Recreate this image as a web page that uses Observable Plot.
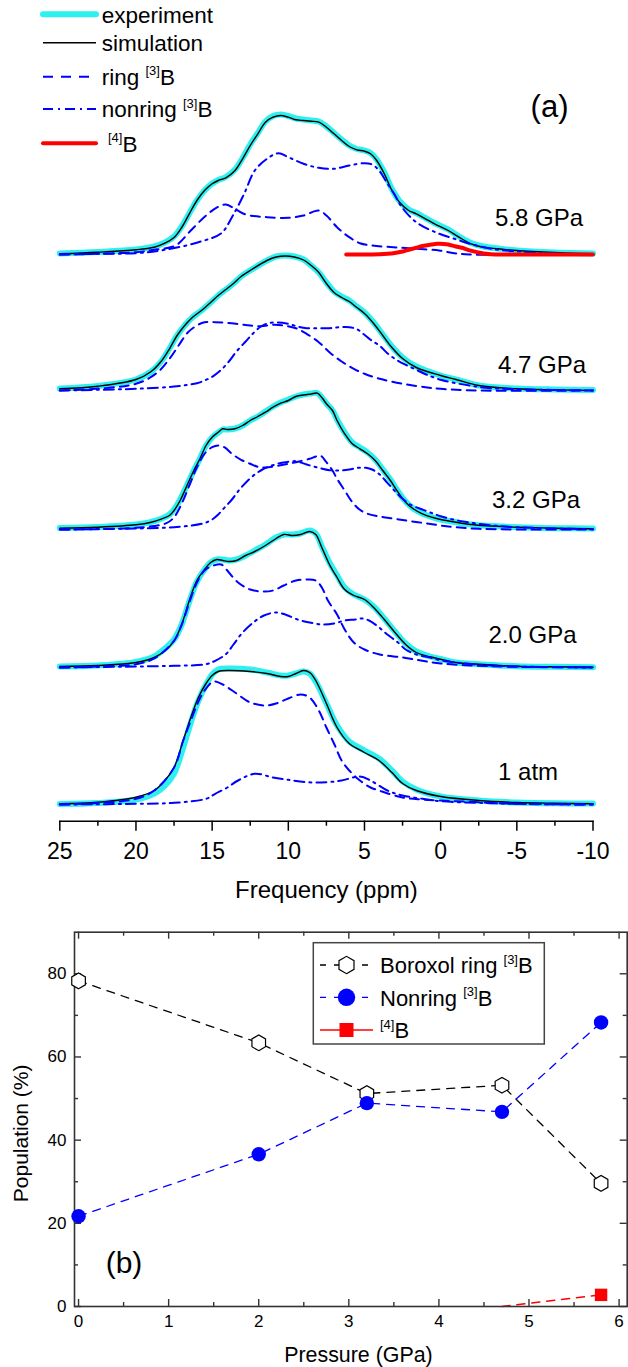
<!DOCTYPE html>
<html>
<head>
<meta charset="utf-8">
<script src="https://cdn.jsdelivr.net/npm/d3@7"></script>
<script src="https://cdn.jsdelivr.net/npm/@observablehq/plot@0.6"></script>
<style>
  html, body { margin: 0; padding: 0; background: #fff; }
  #chart { position: relative; width: 628px; height: 1367px; overflow: hidden;
           font-family: "Liberation Sans", Arial, Helvetica, sans-serif; background: #fff; }
  #chart svg { position: absolute; left: 0; }
</style>
</head>
<body>
<div id="chart"></div>
<script>
// ---------------- (a) 11B NMR spectra: [frequency (ppm), intensity above baseline] ----------------
const spectra = ["1 atm", "2.0 GPa", "3.2 GPa", "4.7 GPa", "5.8 GPa"];

const exp1atm = [[25,0.5],[22.5,1.5],[20,5],[18.8,11],[18.1,19],[17.5,31],[16.9,57],[16.4,82],[15.9,104],[15.4,120],[15,130],[14.6,135],[13.9,136],[12.5,135],[11.4,132],[10.5,129],[10,129],[9.5,131],[9,133],[8.6,131],[8.2,123],[7.5,101],[6.8,79],[6,63],[5,54],[4.05,46],[3.2,34],[2.5,23],[1.6,15],[0,8],[-2.5,4],[-5,2],[-7.5,1.2],[-10,1]];
const sim1atm = [[25,0.7],[22.5,2.3],[20,7.3],[18.8,14],[18.1,24],[17.5,37],[16.9,64],[16.4,87],[15.9,107],[15.4,121],[15,129],[14.6,133],[13.9,134],[12.5,133],[11.4,131],[10.5,128],[10,128],[9.5,131],[9,134],[8.6,132],[8.2,124],[7.5,101],[6.8,77],[6,61],[5,52],[4.05,44],[3.2,32],[2.5,21],[1.6,14],[0,8],[-2.5,4],[-5,2],[-7.5,1.2],[-10,0.7]];
const ring1atm = [[25,0],[22.5,1.5],[20,5.7],[18.8,14],[17.5,37],[16.9,64],[16.4,84],[15.9,103],[15.5,114],[14.9,123],[14.3,120],[13.4,111],[12.5,102],[11.5,99],[10.8,101],[10,106],[9.2,110],[8.6,107],[8,94],[7.5,77],[7,61],[6.5,44],[6,34],[5.3,24],[4.6,17],[4.05,14],[2.5,7],[1.2,5],[0,4],[-2.5,2.3],[-5,0.7],[-10,0]];
const nonring1atm = [[25,0],[20,0.7],[17.5,1.7],[15.4,5.7],[14.8,10.7],[14,17],[13.3,24],[12.2,30.7],[11,27],[10,24.7],[8.8,22.3],[7.5,22.3],[6.5,24],[5.3,28],[4.6,24],[3.5,14],[2.5,9],[1.2,5.7],[0,3.3],[-2.5,1.7],[-5,0.7],[-10,0]];

const exp20 = [[25,1],[22.5,2],[20,5.5],[18.8,11],[18.1,19],[17.5,28],[17,43],[16.5,66],[16,86],[15.5,98],[15.1,105],[14.7,108],[14.3,108],[13.9,107],[13.4,108],[12.8,112],[12.2,117],[11.5,123],[10.8,130],[10.3,133],[9.7,133],[9.2,134],[8.6,137],[8.2,134],[7.8,121],[7.3,105],[6.8,92],[6.3,80],[5.7,73],[5,68],[4.4,61],[3.7,49],[3,36],[2.3,24],[1.6,16],[0.7,11],[0,8.5],[-1,5],[-2.5,3.3],[-5,1.3],[-7.5,0.7],[-10,0.3]];
const sim20 = [[25,1],[22.5,2],[20,5],[18.8,10],[18.1,16.7],[17.5,26.7],[17,43],[16.5,67],[16,87],[15.5,98],[15.1,105],[14.7,108],[14.3,107],[13.9,106],[13.4,107],[12.8,112],[12.2,116],[11.5,122],[10.8,129],[10.3,133],[9.7,132],[9.2,133],[8.6,136],[8.2,133],[7.8,120],[7.3,103],[6.8,90],[6.3,78],[5.7,72],[5,68],[4.4,60],[3.7,48],[3,35],[2.3,23],[1.6,15],[0.7,10.7],[0,8.3],[-1,5],[-2.5,3.3],[-5,1.3],[-7.5,0.7],[-10,0.3]];
const ring20 = [[25,0],[22.5,1],[20,3.3],[18.8,9],[17.5,26.7],[17,42.7],[16.5,65],[16,85],[15.5,97],[14.9,102],[14.4,103],[13.9,95],[13.3,85],[12.5,78],[11.7,76],[11,77],[10.3,82],[9.5,87],[8.8,88],[8.2,87],[7.8,80],[7.4,67],[6.8,53],[6.3,38],[5.7,25],[5,18],[4,13],[2.5,10],[1.2,6.7],[0,4],[-2.5,1.7],[-5,0.7],[-10,0]];
const nonring20 = [[25,0],[20,1],[17.5,1.7],[15.4,3.3],[14.8,6.7],[14.1,13.3],[13.6,23],[13,35],[12.3,45],[11.6,52],[10.8,55],[10.2,53],[9.4,48],[8.6,45],[7.8,43],[7,44],[6.3,47],[5.6,48],[5.2,49],[4.7,47],[4.2,42],[3.5,33],[2.8,25],[2.3,18],[1.6,13],[0.7,10],[0,7.3],[-1,5],[-2.5,2.7],[-5,1],[-10,0]];

const exp32 = [[25,1.5],[22.5,2.5],[20,5],[19,7.5],[18.3,11],[17.8,15],[17.5,20],[17.1,30],[16.6,46],[16.2,59],[15.8,71],[15.4,84],[15,92],[14.6,97],[14.3,100],[14,100],[13.5,101],[13,104],[12.5,109],[12,113],[11.5,118],[11,123],[10.5,127],[10,130],[9.5,133],[9,135],[8.5,136],[8.1,136.5],[7.8,132],[7.5,126],[7.1,119],[6.8,110],[6.3,97],[5.8,87],[5.3,82],[4.8,77],[4.3,70],[3.8,60],[3.3,50],[2.8,38],[2.3,28],[1.8,21],[1.2,16],[0.6,12.5],[0,10],[-1,7.3],[-2,5],[-3,3.7],[-5,2.3],[-7.5,1.3],[-10,1]];
const sim32 = [[25,1.3],[22.5,2.3],[20,4.7],[19,7.3],[18.3,10.7],[17.8,14],[17.5,19],[17.1,29],[16.6,45.7],[16.2,59],[15.8,70.7],[15.4,84],[15,92.3],[14.6,97.3],[14.3,100.7],[14,100],[13.5,100.7],[13,104],[12.5,109],[12,113],[11.5,117.3],[11,122.3],[10.5,126.3],[10,129],[9.5,133],[9,134.5],[8.5,135.5],[8.1,136.3],[7.8,132],[7.5,125.7],[7.1,119],[6.8,109],[6.3,95.7],[5.8,85.7],[5.3,80.7],[4.8,75.7],[4.3,69],[3.8,59],[3.3,49],[2.8,37.3],[2.3,27.3],[1.8,20.7],[1.2,15.7],[0.6,12.3],[0,10],[-1,7.3],[-2,5],[-3,3.7],[-5,2.3],[-7.5,1.3],[-10,0.7]];
const ring32 = [[25,0],[20,1.7],[18,6.3],[17.5,12.3],[17,25.7],[16.5,44],[16,62.3],[15.5,75.7],[15,82.3],[14.6,84],[14.2,82.3],[13.7,75.7],[13.1,69.7],[12.5,65.7],[11.9,62.3],[11.3,62.3],[10.6,64],[10,65.7],[9.3,68],[8.6,70.7],[8.2,73],[7.9,74],[7.5,67.3],[7.1,59],[6.8,50.7],[6.3,39],[5.8,27.3],[5.3,19.7],[4.8,15.7],[4,13],[3,10.7],[2,8.3],[1,6.3],[0,4],[-1,2.3],[-2.5,0.7],[-5,0],[-10,0]];
const nonring32 = [[25,0],[20,1],[17.5,2.3],[15.6,6],[15,10],[14.6,15],[14.2,21.7],[13.7,30],[13.2,40],[12.7,48.3],[12.2,55],[11.7,60],[11.2,63.3],[10.7,65.7],[10.2,67.3],[9.5,68.3],[8.8,65],[8,61.7],[7.3,59.3],[6.6,59],[6,60],[5.4,61.7],[4.9,61.7],[4.5,60],[4,55],[3.5,46.7],[3,38.3],[2.5,30.7],[2,25],[1.2,20],[0.5,16],[0,13.3],[-1,9.3],[-2,6.7],[-3,4.7],[-4,3.3],[-5,2.3],[-7.5,1],[-10,0.3]];

const exp47 = [[25,2],[22.5,4.5],[20,11],[19,19],[18.3,30],[17.8,42],[17.3,55],[16.8,65],[16.3,73],[15.7,80],[15.1,88],[14.6,95],[14.1,101],[13.6,107],[13.1,114],[12.4,121],[11.4,130],[10.8,134],[10.2,135],[9.6,134],[9,131],[8.5,125],[8,118],[7.5,108],[7,99],[6.5,94],[6,90],[5.5,84],[5,78],[4.4,68],[3.8,56],[3.2,44],[2.5,33],[1.6,24],[0,15],[-1,11],[-2.5,5],[-5,2],[-7.5,1],[-10,0.5]];
const sim47 = [[25,1.7],[22.5,4.3],[20,11],[19,19],[18.3,30],[17.8,41.7],[17.3,55],[16.8,65],[16.3,73],[15.7,80],[15.1,88],[14.6,95],[14.1,101],[13.6,107],[13.1,114],[12.4,121],[11.4,130],[10.8,133.5],[10.2,134.5],[9.6,133.5],[9,130.5],[8.5,125],[8,118],[7.5,107],[7,98],[6.5,93],[6,89],[5.5,83],[5,77],[4.4,67],[3.8,55],[3.2,43],[2.5,32],[1.6,23],[0,15],[-1,11],[-2.5,5],[-5,1.7],[-7.5,0.7],[-10,0]];
const ring47 = [[25,0],[20,6.7],[18.6,18],[17.8,31.7],[17.2,45],[16.6,58],[16,65],[15.5,68.3],[14.8,68.3],[14,67.7],[13.2,66.3],[12.5,65],[11.8,64.3],[11,65.7],[10.3,65],[9.5,62.3],[8.8,56.7],[8,48.3],[7.3,38.3],[6.5,29],[5.7,21.7],[5,16.7],[4,11.7],[2.5,6.7],[1,3.3],[0,1.7],[-2.5,0],[-10,0]];
const nonring47 = [[25,0],[20,1.7],[17.5,4],[16,7.3],[15.4,10.7],[14.9,14.7],[14.4,20.7],[13.9,29],[13.4,39],[12.8,49],[12.3,57.3],[11.8,64],[11.3,67.3],[10.7,68],[10,66.7],[9.4,64],[8.8,62.3],[8,62.3],[7.3,62.3],[6.6,63.3],[6,63.3],[5.5,61.3],[5,55.7],[4.6,50.7],[4,44.7],[3.5,37.3],[2.9,30.7],[2.3,25.7],[1.6,20.7],[0.9,15.7],[0,10.7],[-1,7.3],[-2,4.7],[-3,2.7],[-5,1.3],[-10,0]];

const exp58 = [[25,1],[22.5,2.5],[20,5],[18.8,8],[18.1,12],[17.5,18],[17,28],[16.5,41],[16,54],[15.5,64],[15,71],[14.6,74.5],[14.1,77.5],[13.5,85],[13,96.5],[12.5,110],[12,121.5],[11.5,133],[11,138.5],[10.5,140],[10,138.5],[9.5,136],[9,135],[8.5,134],[8,133],[7.5,128],[7,121.5],[6.5,115],[6,109],[5.5,105.5],[5,104],[4.6,101.5],[4.2,95],[3.7,82],[3.2,65.5],[2.7,53.5],[2.1,45],[1.6,41.5],[1,36.5],[0.4,31.5],[-0.5,25],[-1.2,18],[-2,11.5],[-2.8,8],[-3.8,6],[-5,4],[-7.5,2],[-10,1]];
const sim58 = [[25,0.7],[22.5,2.3],[20,4.7],[18.8,7.3],[18.1,11.3],[17.5,17],[17,27],[16.5,40.7],[16,54],[15.5,64],[15,70.7],[14.6,74],[14.1,76.7],[13.5,84],[13,95.7],[12.5,109],[12,120.7],[11.5,132.3],[11,137.3],[10.5,139],[10,137.3],[9.5,134.7],[9,134],[8.5,133.3],[8,132.3],[7.5,127.3],[7,120.7],[6.5,114],[6,108],[5.5,104.7],[5,103.3],[4.6,100.7],[4.2,94],[3.7,80.7],[3.2,64],[2.7,52.3],[2.1,44],[1.6,40.7],[1,35.7],[0.4,30.7],[-0.5,24],[-1.2,17.3],[-2,10.7],[-2.8,7.3],[-3.8,5.7],[-5,4],[-7.5,2],[-10,0.7]];
const ring58 = [[25,0],[22.5,0.7],[20,2.3],[18.8,4.7],[17.4,9],[16.4,24],[15.4,39],[14.65,47.3],[14.1,50],[13.4,44.7],[12.8,40],[11.4,37.3],[10,36.7],[9,39],[8,44],[7.5,39],[6.8,27.3],[6,17.3],[5.3,11.3],[4.5,9],[3.1,7.3],[1.6,5.7],[0.1,4],[-0.9,1.3],[-1.9,0],[-10,0]];
const nonring58 = [[25,0],[22.5,0.7],[20,1.3],[18.1,4.7],[15.9,12.3],[14.4,21.3],[13.7,37.3],[12.9,60.7],[12.2,84],[11.4,95.7],[10.65,101.3],[10,97.3],[9,90.7],[8,86.7],[7,85.7],[6,89],[5,91.3],[4.5,90],[4.05,84],[3.55,72.3],[3.05,60.7],[2.55,47.3],[1.6,32.3],[0.35,22.3],[-0.9,15.7],[-2.1,10],[-3.35,5.7],[-5.8,2.3],[-8.3,0.7],[-10,0.3]];
const boron4_58 = [[6.2,0],[4.5,0],[3.5,0.7],[3,1.5],[2.5,3],[2.1,4.7],[1.6,6.8],[1.1,8.7],[0.6,10],[0.2,10.7],[-0.2,10.6],[-0.5,10],[-1,8],[-1.4,6.7],[-1.9,4.2],[-2.4,2.3],[-2.8,1],[-3.3,0.3],[-4,0],[-10,0]];

const freqTicks = [25, 20, 15, 10, 5, 0, -5, -10];
const freqMinorTicks = [22.5, 17.5, 12.5, 7.5, 2.5, -2.5, -7.5];

// ---------------- (b) site populations vs pressure ----------------
const pressure = [0, 2.0, 3.2, 4.7, 5.8];
const boroxolRing = [78.3, 63.4, 51.2, 53.2, 29.6];
const nonringPop = [21.7, 36.6, 48.9, 46.8, 68.3];
const boron4Pressure = [4.7, 5.8];
const boron4Pop = [0, 2.8];

const pressureTicks = [0, 1, 2, 3, 4, 5, 6];
const pressureMinorTicks = [0.5, 1.5, 2.5, 3.5, 4.5, 5.5];
const popTicks = [0, 20, 40, 60, 80];
const popMinorTicks = [10, 30, 50, 70];

// ---------------- layout ----------------
const FONT = '"Liberation Sans", Arial, Helvetica, sans-serif';
const CYAN = "#2ef0f0", BLUE = "#0000ff", RED = "#ff0000";
const stackOffset = [0, 137, 275, 414, 550];     // vertical shift of each spectrum
const labelPpm = [-5.74, -6.03, -6.26, -6.65, -6.46];
const labelRise = [32, 32, 29, 25, 36];

function stackRows(list) {
  return list.flatMap((pts, i) => pts.map(([ppm, v]) => ({ppm, y: stackOffset[i] + v, spectrum: spectra[i]})));
}
const expRows = stackRows([exp1atm, exp20, exp32, exp47, exp58]);
const simRows = stackRows([sim1atm, sim20, sim32, sim47, sim58]);
const ringRows = stackRows([ring1atm, ring20, ring32, ring47, ring58]);
const nonringRows = stackRows([nonring1atm, nonring20, nonring32, nonring47, nonring58]);
const boron4Rows = boron4_58.map(([ppm, v]) => ({ppm, y: stackOffset[4] + v}));

const chart = document.getElementById("chart");

// Panel (a)
const aH = 905, aAxisY = 820.7, aBase = 804;
const aInner = aAxisY;
const lineOpts = {x: "ppm", y: "y", z: "spectrum", curve: "catmull-rom"};
const plotA = Plot.plot({
  width: 628, height: aH,
  marginLeft: 59.3, marginRight: 35.5, marginTop: 0, marginBottom: aH - aAxisY,
  style: {fontFamily: FONT, color: "black", background: "transparent", overflow: "visible"},
  x: {domain: [25, -10]},
  y: {domain: [-(aAxisY - aBase), aBase], axis: null},
  marks: [
    Plot.line(expRows, {...lineOpts, stroke: CYAN, strokeWidth: 6, strokeLinejoin: "round", strokeLinecap: "round"}),
    Plot.line(simRows, {...lineOpts, stroke: "black", strokeWidth: 1.4}),
    Plot.line(ringRows, {...lineOpts, stroke: BLUE, strokeWidth: 2, strokeDasharray: "9,6"}),
    Plot.line(nonringRows, {...lineOpts, stroke: BLUE, strokeWidth: 2, strokeDasharray: "10,5,2,5"}),
    Plot.line(boron4Rows, {x: "ppm", y: "y", curve: "catmull-rom", stroke: RED, strokeWidth: 4}),
    Plot.frame({anchor: "bottom", stroke: "black", strokeWidth: 1.5}),
    Plot.tickX(freqTicks, {x: d => d, insetTop: aInner, insetBottom: -10, stroke: "black", strokeWidth: 1.5}),
    Plot.tickX(freqMinorTicks, {x: d => d, insetTop: aInner, insetBottom: -5, stroke: "black", strokeWidth: 1.5}),
    Plot.axisX({ticks: freqTicks, tickSize: 0, tickPadding: 21.6, fontSize: 23, label: null, tickFormat: d => String(d)}),
    Plot.text(spectra, {x: (d, i) => labelPpm[i], y: (d, i) => stackOffset[i] + labelRise[i], text: d => d,
      fontSize: 24, fill: "black", textAnchor: "middle", lineAnchor: "middle"}),
    Plot.text(["Frequency (ppm)"], {frameAnchor: "bottom", dy: 69, fontSize: 24, fill: "black", textAnchor: "middle", lineAnchor: "middle"}),
    Plot.text(["(a)"], {frameAnchor: "top-left", dx: 549 - 59.3, dy: 107, fontSize: 31, fill: "black", textAnchor: "middle", lineAnchor: "middle"})
  ]
});
plotA.style.top = "0px";
chart.appendChild(plotA);

// Panel (b)
const bTop = 905, bH = 462, bML = 74, bMR = 1.3, bMT = 26.7, bMB = 61;
const bInnerW = 628 - bML - bMR, bInnerH = bH - bMT - bMB;
const popRows = pressure.map((p, i) => ({pressure: p, boroxol: boroxolRing[i], nonring: nonringPop[i]}));
const b4Rows = boron4Pressure.map((p, i) => ({pressure: p, value: boron4Pop[i]}));
const AX = "#333";
const plotB = Plot.plot({
  width: 628, height: bH,
  marginLeft: bML, marginRight: bMR, marginTop: bMT, marginBottom: bMB,
  style: {fontFamily: FONT, color: "black", background: "transparent", overflow: "visible"},
  x: {domain: [-0.045, 6.09]},
  y: {domain: [0, 90]},
  marks: [
    Plot.line(b4Rows, {x: "pressure", y: "value", stroke: RED, strokeWidth: 1.6, strokeDasharray: "8,7"}),
    Plot.line(popRows, {x: "pressure", y: "boroxol", stroke: "black", strokeWidth: 1.3, strokeDasharray: "8,7"}),
    Plot.line(popRows, {x: "pressure", y: "nonring", stroke: BLUE, strokeWidth: 1.3, strokeDasharray: "8,7"}),
    Plot.frame({stroke: AX, strokeWidth: 1.6}),
    Plot.tickX(pressureTicks, {x: d => d, insetTop: bInnerH - 7, stroke: AX, strokeWidth: 1.4}),
    Plot.tickX(pressureTicks, {x: d => d, insetBottom: bInnerH - 7, stroke: AX, strokeWidth: 1.4}),
    Plot.tickX(pressureMinorTicks, {x: d => d, insetTop: bInnerH - 4, stroke: AX, strokeWidth: 1.4}),
    Plot.tickX(pressureMinorTicks, {x: d => d, insetBottom: bInnerH - 4, stroke: AX, strokeWidth: 1.4}),
    Plot.tickY(popTicks, {y: d => d, insetRight: bInnerW - 7, stroke: AX, strokeWidth: 1.4}),
    Plot.tickY(popTicks, {y: d => d, insetLeft: bInnerW - 7, stroke: AX, strokeWidth: 1.4}),
    Plot.tickY(popMinorTicks, {y: d => d, insetRight: bInnerW - 4, stroke: AX, strokeWidth: 1.4}),
    Plot.tickY(popMinorTicks, {y: d => d, insetLeft: bInnerW - 4, stroke: AX, strokeWidth: 1.4}),
    Plot.dot(popRows, {x: "pressure", y: "boroxol", symbol: "hexagon", r: 6.8, fill: "white", stroke: "black", strokeWidth: 1.2}),
    Plot.dot(popRows, {x: "pressure", y: "nonring", r: 7.2, fill: BLUE}),
    Plot.dot(b4Rows.filter(d => d.value > 0), {x: "pressure", y: "value", symbol: "square", r: 7, fill: RED}),
    Plot.axisX({ticks: pressureTicks, tickSize: 0, tickPadding: 8, fontSize: 17, label: null, tickFormat: d => String(d)}),
    Plot.axisY({ticks: popTicks, tickSize: 0, tickPadding: 8, fontSize: 17, label: null, tickFormat: d => String(d)}),
    Plot.text(["Pressure (GPa)"], {frameAnchor: "bottom", dx: 7.6, dy: 49, fontSize: 21.4, fill: "black", textAnchor: "middle", lineAnchor: "middle"}),
    Plot.text(["Population (%)"], {frameAnchor: "left", dx: -53, dy: 14, rotate: -90, fontSize: 21, fill: "black", textAnchor: "middle", lineAnchor: "middle"}),
    Plot.text(["(b)"], {frameAnchor: "bottom-left", dx: 49.5, dy: -43, fontSize: 30, fill: "black", textAnchor: "middle", lineAnchor: "middle"})
  ]
});
plotB.style.top = bTop + "px";
chart.appendChild(plotB);

// ---------------- legends ----------------
function addLabel(sel, x, y, size, supSize, item) {
  const t = sel.append("text").attr("x", x).attr("y", y).attr("font-size", size)
    .attr("font-family", FONT).attr("fill", "black").style("white-space", "pre");
  t.append("tspan").text(item.pre);
  if (item.sup) {
    t.append("tspan").attr("font-size", supSize).attr("dy", -size * 0.42).text(item.sup);
    t.append("tspan").attr("dy", size * 0.42).text(item.post);
  }
}

// legend of panel (a)
const legendA = [
  {pre: "experiment", stroke: CYAN, width: 6, dash: null, cap: "round"},
  {pre: "simulation", stroke: "black", width: 1.5, dash: null},
  {pre: "ring ", sup: "[3]", post: "B", stroke: BLUE, width: 2, dash: "10,8"},
  {pre: "nonring ", sup: "[3]", post: "B", stroke: BLUE, width: 2, dash: "10,5,2,5"},
  {pre: " ", sup: "[4]", post: "B", stroke: RED, width: 4, dash: null, cap: "round"}
];
const legendAY = [14.3, 42.7, 76.7, 109, 143.3];
const la = d3.select(chart).append("svg").attr("width", 260).attr("height", 170).style("top", "0px");
legendA.forEach((d, i) => {
  const y = legendAY[i];
  la.append("line").attr("x1", 43).attr("x2", 96).attr("y1", y).attr("y2", y)
    .attr("stroke", d.stroke).attr("stroke-width", d.width)
    .attr("stroke-dasharray", d.dash).attr("stroke-linecap", d.cap || "butt");
  addLabel(la, 101.7, y + 8.2, 22.5, 13, d);
});

// legend of panel (b)
function hexPath(r) {
  const ry = r * 2 / Math.sqrt(3), hy = ry / 2;
  return `M0,${ry}L${r},${hy}L${r},${-hy}L0,${-ry}L${-r},${-hy}L${-r},${hy}Z`;
}
const legendB = [
  {pre: "Boroxol ring ", sup: "[3]", post: "B", stroke: "black", dash: "6,8", marker: "hexagon"},
  {pre: "Nonring ", sup: "[3]", post: "B", stroke: BLUE, dash: "6,8", marker: "circle"},
  {pre: "", sup: "[4]", post: "B", stroke: RED, dash: null, marker: "square"}
];
const legendBY = [965, 997.3, 1030];
const lb = d3.select(chart).append("svg").attr("width", 628).attr("height", 140).style("top", "920px");
lb.append("rect").attr("x", 313.3).attr("y", 942.7 - 920).attr("width", 231).attr("height", 101.3)
  .attr("fill", "white").attr("stroke", "#444").attr("stroke-width", 1.5);
legendB.forEach((d, i) => {
  const y = legendBY[i] - 920;
  lb.append("line").attr("x1", 320).attr("x2", 373).attr("y1", y).attr("y2", y)
    .attr("stroke", d.stroke).attr("stroke-width", 1.3).attr("stroke-dasharray", d.dash);
  const g = lb.append("g").attr("transform", `translate(346.5,${y})`);
  if (d.marker === "hexagon") g.append("path").attr("d", hexPath(7.5)).attr("fill", "white").attr("stroke", "black").attr("stroke-width", 1.2);
  if (d.marker === "circle") g.append("circle").attr("r", 8.7).attr("fill", BLUE);
  if (d.marker === "square") g.append("rect").attr("x", -7).attr("y", -7).attr("width", 14).attr("height", 14).attr("fill", RED);
  addLabel(lb, 380, y + 8.3, 22, 13, d);
});
</script>
</body>
</html>
